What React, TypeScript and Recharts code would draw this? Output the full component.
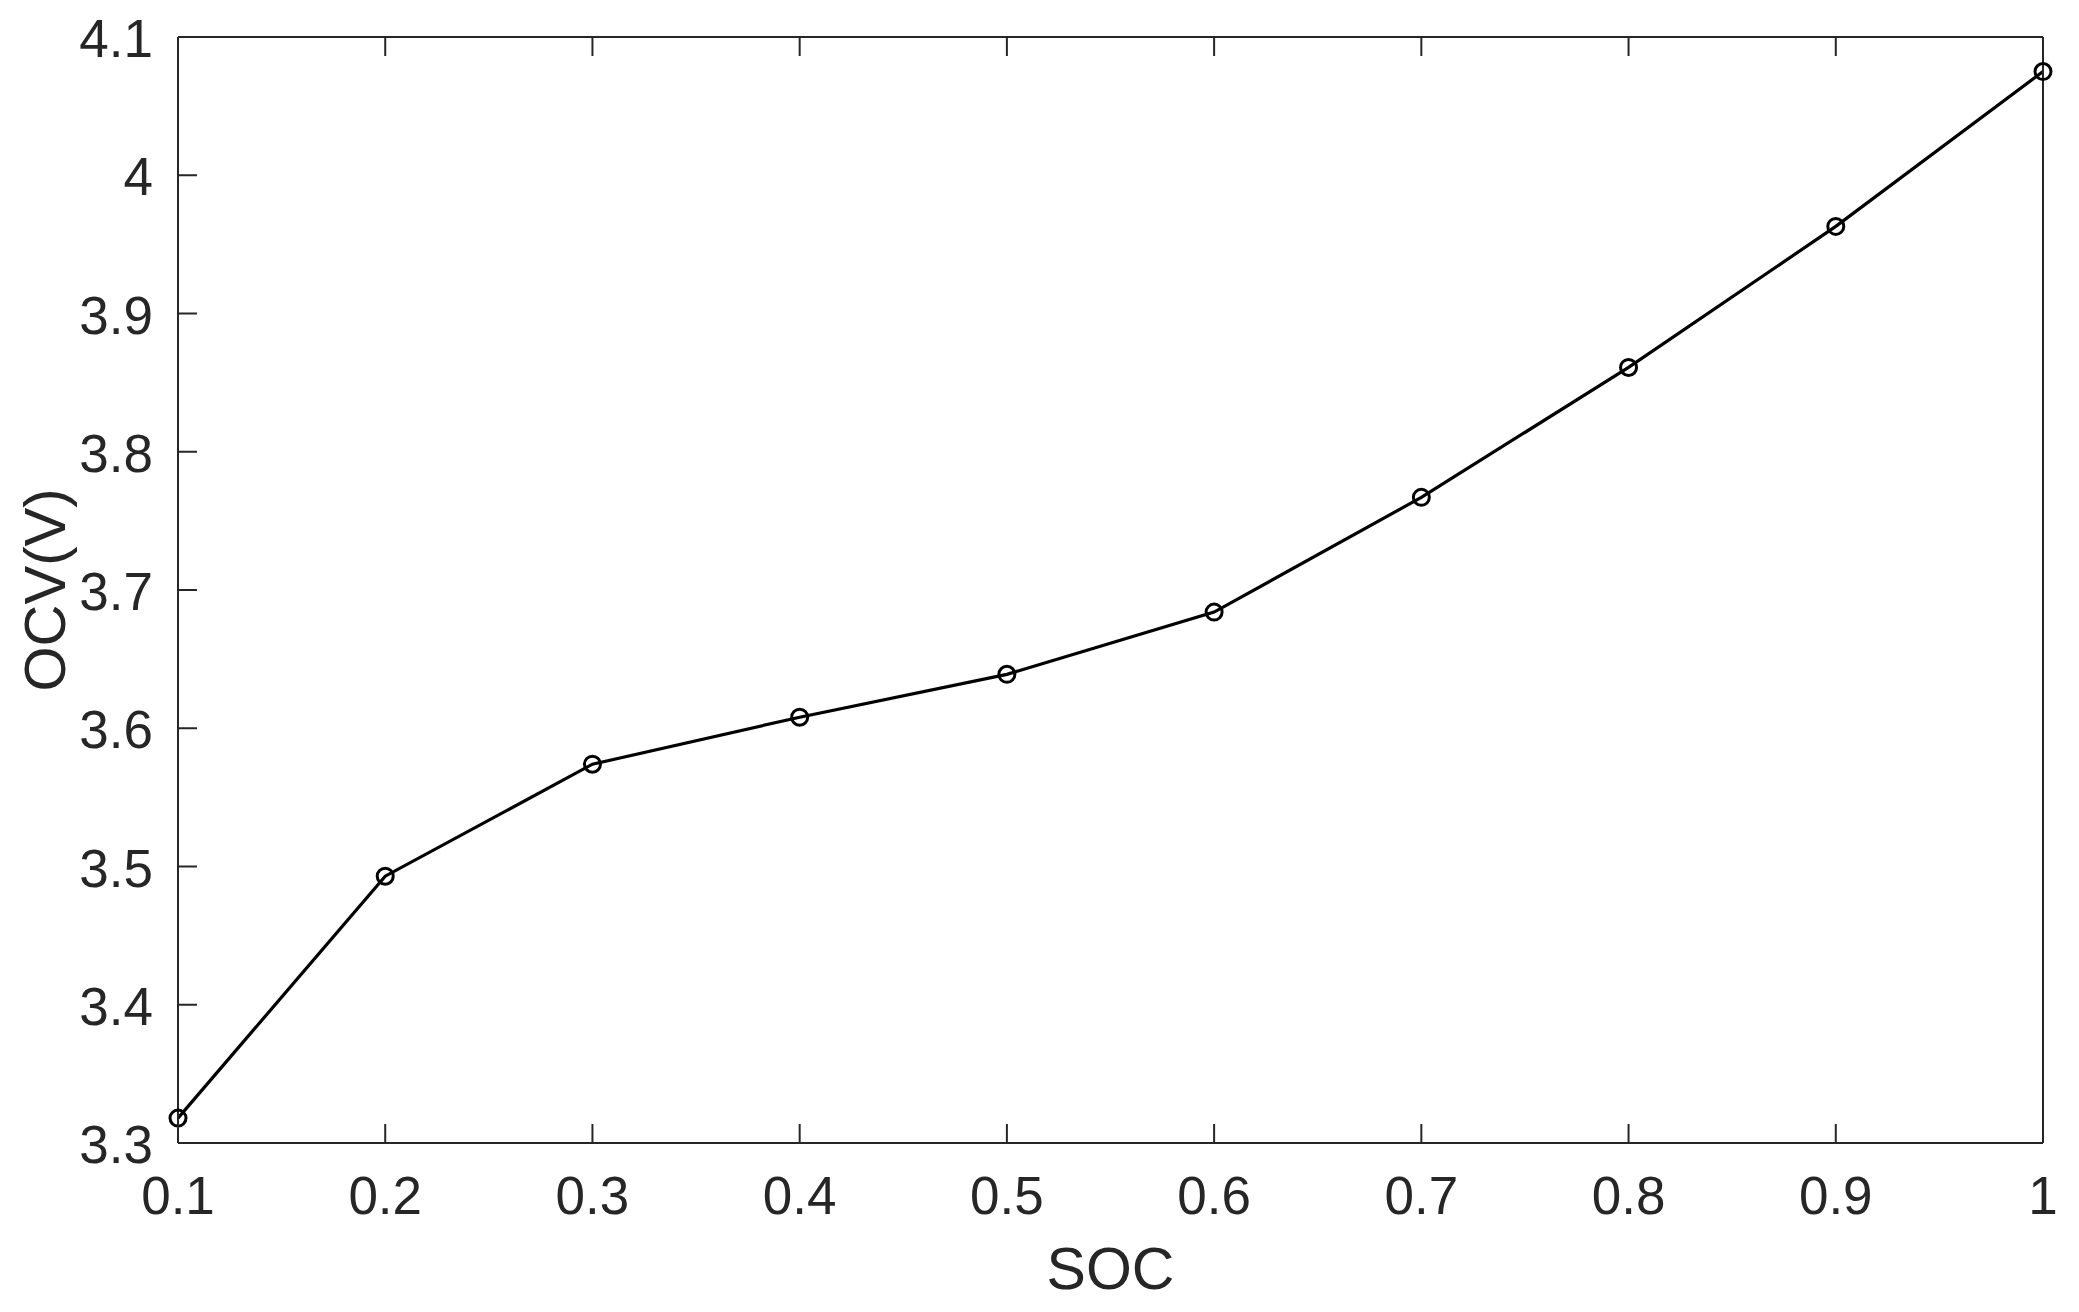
import React from 'react'
import { LineChart, Line, XAxis, YAxis, Label } from 'recharts'

const socValues = [0.1, 0.2, 0.3, 0.4, 0.5, 0.6, 0.7, 0.8, 0.9, 1.0]
const ocvValues = [3.318, 3.493, 3.574, 3.608, 3.639, 3.684, 3.767, 3.861, 3.963, 4.075]

const xTicks = [0.1, 0.2, 0.3, 0.4, 0.5, 0.6, 0.7, 0.8, 0.9, 1]
const yTicks = [3.3, 3.4, 3.5, 3.6, 3.7, 3.8, 3.9, 4.0, 4.1]

const data = socValues.map((soc, i) => ({ soc, ocv: ocvValues[i] }))

const TEXT = '#262626'
const FONT = '"Liberation Sans", Arial, sans-serif'
const TICK_LEN = 19

// bottom ticks: label below, short tick mark pointing up into the plot
const BottomTick = (props: any) => {
  const { x, y, payload } = props
  return (
    <g>
      <line x1={x} y1={y} x2={x} y2={y - TICK_LEN} stroke={TEXT} strokeWidth={2} />
      <text x={x} y={y + 71} textAnchor="middle" fill={TEXT} fontSize={53} fontFamily={FONT}>
        {String(payload.value)}
      </text>
    </g>
  )
}

const TopTick = (props: any) => {
  const { x, y } = props
  return <line x1={x} y1={y} x2={x} y2={y + TICK_LEN} stroke={TEXT} strokeWidth={2} />
}

const LeftTick = (props: any) => {
  const { x, y, payload } = props
  return (
    <g>
      <line x1={x} y1={y} x2={x + TICK_LEN} y2={y} stroke={TEXT} strokeWidth={2} />
      <text x={x - 25} y={y + 20} textAnchor="end" fill={TEXT} fontSize={53} fontFamily={FONT}>
        {String(payload.value)}
      </text>
    </g>
  )
}

const RightTick = (props: any) => {
  const { x, y } = props
  return <line x1={x} y1={y} x2={x - TICK_LEN} y2={y} stroke={TEXT} strokeWidth={2} />
}

export default function App() {
  return (
    <div style={{ position: 'absolute', left: 0, top: 0, background: '#fff' }}>
      <LineChart width={2079} height={1312} data={data} margin={{ top: 36, right: 35, left: 0, bottom: 0 }}>
        <XAxis
          xAxisId="bottom"
          dataKey="soc"
          type="number"
          domain={[0.1, 1]}
          ticks={xTicks}
          interval={0}
          tickSize={0}
          tickMargin={0}
          tickLine={false}
          height={169}
          axisLine={{ stroke: TEXT, strokeWidth: 2 }}
          tick={<BottomTick />}
        >
          <Label
            content={(p: any) => {
              const vb = p.viewBox
              return (
                <text x={vb.x + vb.width / 2} y={vb.y + 146} textAnchor="middle" fill={TEXT} fontSize={59} fontFamily={FONT}>
                  SOC
                </text>
              )
            }}
          />
        </XAxis>
        <XAxis
          xAxisId="top"
          orientation="top"
          dataKey="soc"
          type="number"
          domain={[0.1, 1]}
          ticks={xTicks}
          interval={0}
          tickSize={0}
          tickMargin={0}
          tickLine={false}
          height={1}
          axisLine={{ stroke: TEXT, strokeWidth: 2 }}
          tick={<TopTick />}
        />
        <YAxis
          yAxisId="left"
          type="number"
          domain={[3.3, 4.1]}
          ticks={yTicks}
          interval={0}
          tickSize={0}
          tickMargin={0}
          tickLine={false}
          width={178}
          axisLine={{ stroke: TEXT, strokeWidth: 2 }}
          tick={<LeftTick />}
        >
          <Label
            content={(p: any) => {
              const vb = p.viewBox
              const cx = vb.x + 65
              const cy = vb.y + vb.height / 2
              return (
                <text x={cx} y={cy} transform={`rotate(-90 ${cx} ${cy})`} textAnchor="middle" fill={TEXT} fontSize={58} fontFamily={FONT}>
                  OCV(V)
                </text>
              )
            }}
          />
        </YAxis>
        <YAxis
          yAxisId="right"
          orientation="right"
          type="number"
          domain={[3.3, 4.1]}
          ticks={yTicks}
          interval={0}
          tickSize={0}
          tickMargin={0}
          tickLine={false}
          width={1}
          axisLine={{ stroke: TEXT, strokeWidth: 2 }}
          tick={<RightTick />}
        />
        <Line
          xAxisId="bottom"
          yAxisId="left"
          dataKey="ocv"
          type="linear"
          stroke="#000"
          strokeWidth={3.2}
          dot={{ r: 8, fill: 'none', stroke: '#000', strokeWidth: 3 }}
          activeDot={false}
          isAnimationActive={false}
        />
      </LineChart>
    </div>
  )
}
